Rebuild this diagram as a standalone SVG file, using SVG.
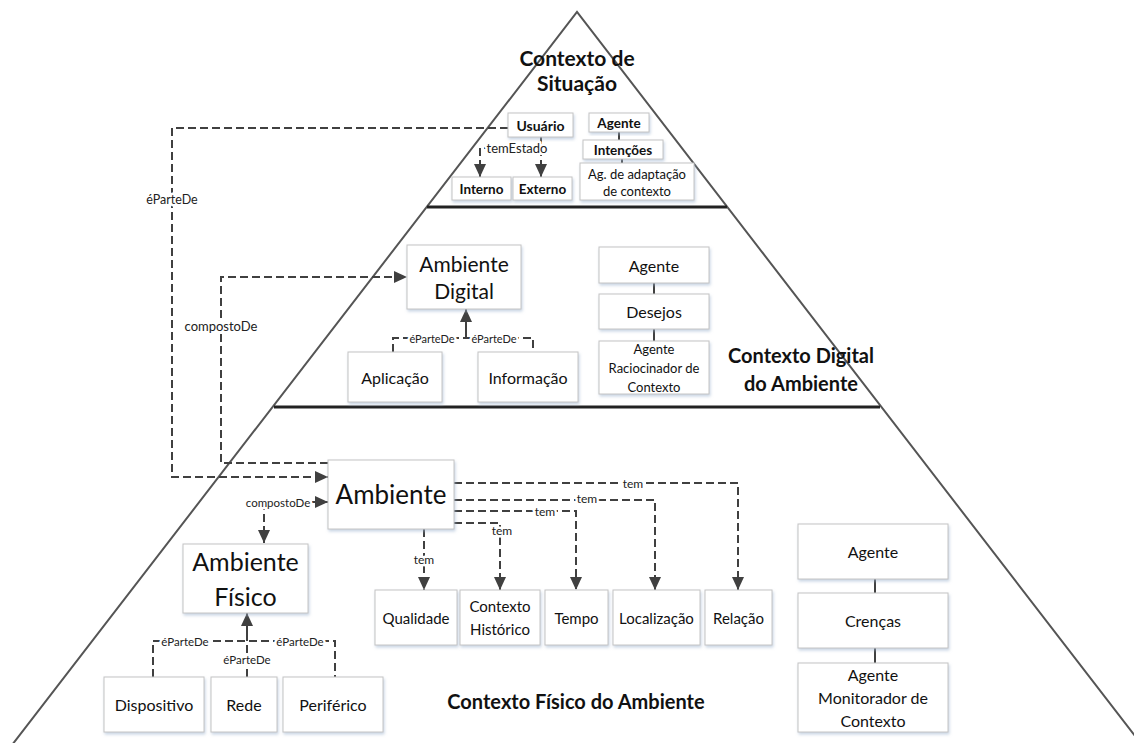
<svg xmlns="http://www.w3.org/2000/svg" width="1134" height="743" viewBox="0 0 1134 743">
  <defs>
    <style>
      text { font-family: "Lato", "Open Sans", sans-serif; fill: #111; text-anchor: middle; dominant-baseline: central; }
      .box { fill: #fff; stroke: #c4c4c4; stroke-width: 1; filter: url(#shadow); }
      .b { font-weight: bold; }
      .title { font-weight: bold; font-size: 20px; }
      .t13 { font-size: 13.5px; }
      .t16 { font-size: 16px; }
      .t15 { font-size: 15px; }
      .dash { fill: none; stroke: #404040; stroke-width: 2; stroke-dasharray: 8 4; }
      .solid { fill: none; stroke: #404040; stroke-width: 2; }
      .lbl { font-size: 12px; fill: #222; stroke: #fff; stroke-width: 5; paint-order: stroke; stroke-linejoin: round; }
      .edge { fill: none; stroke: #555; stroke-width: 2; }
      .divider { stroke: #222; stroke-width: 3; }
    </style>
    <filter id="shadow" x="-10%" y="-10%" width="125%" height="130%">
      <feDropShadow dx="1" dy="2" stdDeviation="1.5" flood-color="#9db2cf" flood-opacity="0.55"/>
    </filter>
    <marker id="arrow" markerUnits="userSpaceOnUse" markerWidth="13" markerHeight="12" refX="13" refY="6" orient="auto">
      <path d="M0,0 L13,6 L0,12 z" fill="#404040"/>
    </marker>
  </defs>

  <!-- pyramid outline and level dividers -->
  <g id="pyramid">
    <path class="edge" d="M12,745 L577,12 L1142,745"/>
    <line class="divider" x1="427" y1="207" x2="727" y2="207"/>
    <line class="divider" x1="274" y1="407" x2="880" y2="407"/>
  </g>

  <!-- level titles -->
  <g id="titles">
    <text class="title" x="577" y="57" style="font-size:21px">Contexto de</text>
    <text class="title" x="577" y="82" style="font-size:21px">Situação</text>
    <text class="title" x="801" y="355">Contexto Digital</text>
    <text class="title" x="801" y="383">do Ambiente</text>
    <text class="title" x="576" y="701">Contexto Físico do Ambiente</text>
  </g>

  <!-- connectors -->
  <g id="connectors">
    <!-- Usuário éParteDe Ambiente -->
    <path class="dash" d="M508,128 H172 V477 H328" marker-end="url(#arrow)"/>
    <!-- Ambiente compostoDe Ambiente Digital -->
    <path class="dash" d="M328,463 H221 V277 H407" marker-end="url(#arrow)"/>
    <!-- Ambiente compostoDe Ambiente Físico -->
    <path class="dash" d="M264,502 H328" marker-end="url(#arrow)"/>
    <path class="dash" d="M264,502 V543" marker-end="url(#arrow)"/>
    <!-- temEstado -->
    <path class="dash" d="M541,137 V148 H480 V177" marker-end="url(#arrow)"/>
    <path class="dash" d="M541,148 V177" marker-end="url(#arrow)"/>
    <!-- agent chains -->
    <line class="solid" x1="619" y1="132" x2="619" y2="140"/>
    <line class="solid" x1="622" y1="159" x2="622" y2="163"/>
    <line class="solid" x1="654" y1="283" x2="654" y2="294"/>
    <line class="solid" x1="654" y1="329" x2="654" y2="341"/>
    <line class="solid" x1="875" y1="579" x2="875" y2="593"/>
    <line class="solid" x1="875" y1="648" x2="875" y2="663"/>
    <!-- Aplicação / Informação éParteDe Ambiente Digital -->
    <path class="dash" d="M393,352 V338 H533 V352"/>
    <path class="solid" d="M466,338 V309" marker-end="url(#arrow)"/>
    <!-- Dispositivo / Rede / Periférico éParteDe Ambiente Físico -->
    <path class="dash" d="M153,677 V641 H335 V677"/>
    <path class="dash" d="M247,677 V641"/>
    <path class="solid" d="M247,641 V613" marker-end="url(#arrow)"/>
    <!-- Ambiente tem ... -->
    <path class="dash" d="M424,529 V590" marker-end="url(#arrow)"/>
    <path class="dash" d="M454,523 H500 V590" marker-end="url(#arrow)"/>
    <path class="dash" d="M454,511 H576 V590" marker-end="url(#arrow)"/>
    <path class="dash" d="M454,500 H655 V590" marker-end="url(#arrow)"/>
    <path class="dash" d="M454,483 H738 V590" marker-end="url(#arrow)"/>

    <!-- connector labels -->
    <text class="lbl" x="172" y="199" style="font-size:12.5px">éParteDe</text>
    <text class="lbl" x="221" y="326" style="font-size:13px">compostoDe</text>
    <text class="lbl" x="278" y="502" style="font-size:11.5px">compostoDe</text>
    <text class="lbl" x="517" y="148" style="font-size:13px">temEstado</text>
    <text class="lbl" x="432" y="338" style="font-size:11px">éParteDe</text>
    <text class="lbl" x="494" y="338" style="font-size:11px">éParteDe</text>
    <text class="lbl" x="185" y="641" style="font-size:11.5px">éParteDe</text>
    <text class="lbl" x="300" y="641" style="font-size:11.5px">éParteDe</text>
    <text class="lbl" x="247" y="659" style="font-size:11.5px">éParteDe</text>
    <text class="lbl" x="424" y="559">tem</text>
    <text class="lbl" x="502" y="530">tem</text>
    <text class="lbl" x="545" y="511">tem</text>
    <text class="lbl" x="587" y="498">tem</text>
    <text class="lbl" x="633" y="483">tem</text>
  </g>

  <!-- situation context -->
  <g id="usuario"><rect class="box" x="508" y="113" width="65" height="24"/><text class="b" x="540.5" y="125" style="font-size:14px">Usuário</text></g>
  <g id="agente-situacao"><rect class="box" x="589" y="113" width="60" height="19"/><text class="b t13" x="619" y="122.5">Agente</text></g>
  <g id="intencoes"><rect class="box" x="583" y="140" width="80" height="19"/><text class="b t13" x="623" y="149.5">Intenções</text></g>
  <g id="ag-adaptacao"><rect class="box" x="580" y="163" width="114" height="37"/><text x="637" y="173.5" style="font-size:13px">Ag. de adaptação</text><text x="637" y="191" style="font-size:13px">de contexto</text></g>
  <g id="interno"><rect class="box" x="452" y="177" width="59" height="23"/><text class="b t13" x="481.5" y="188.5">Interno</text></g>
  <g id="externo"><rect class="box" x="513" y="177" width="59" height="23"/><text class="b t13" x="542.5" y="188.5">Externo</text></g>

  <!-- digital environment context -->
  <g id="ambiente-digital"><rect class="box" x="407" y="245" width="114" height="64"/><text x="464" y="263" style="font-size:21px">Ambiente</text><text x="464" y="290" style="font-size:21px">Digital</text></g>
  <g id="aplicacao"><rect class="box" x="348" y="352" width="94" height="50"/><text class="t16" x="395" y="377">Aplicação</text></g>
  <g id="informacao"><rect class="box" x="478" y="352" width="100" height="50"/><text class="t16" x="528" y="377">Informação</text></g>
  <g id="agente-digital"><rect class="box" x="599" y="247" width="110" height="36"/><text class="t16" x="654" y="265">Agente</text></g>
  <g id="desejos"><rect class="box" x="599" y="294" width="110" height="35"/><text class="t16" x="654" y="311.5">Desejos</text></g>
  <g id="ag-raciocinador"><rect class="box" x="599" y="341" width="110" height="53"/><text x="654" y="348.5" style="font-size:13px">Agente</text><text x="654" y="368" style="font-size:13px">Raciocinador de</text><text x="654" y="387" style="font-size:13px">Contexto</text></g>

  <!-- physical environment context -->
  <g id="ambiente"><rect class="box" x="328" y="460" width="126" height="69"/><text x="391" y="494" style="font-size:26px">Ambiente</text></g>
  <g id="ambiente-fisico"><rect class="box" x="183" y="544" width="125" height="69"/><text x="245.5" y="561" style="font-size:25px">Ambiente</text><text x="245.5" y="596" style="font-size:25px">Físico</text></g>
  <g id="qualidade"><rect class="box" x="375" y="590" width="82" height="55"/><text class="t15" x="416" y="617.5">Qualidade</text></g>
  <g id="contexto-historico"><rect class="box" x="460" y="590" width="80" height="55"/><text class="t15" x="500" y="606">Contexto</text><text class="t15" x="500" y="629">Histórico</text></g>
  <g id="tempo"><rect class="box" x="545" y="590" width="63" height="55"/><text class="t15" x="576.5" y="617.5">Tempo</text></g>
  <g id="localizacao"><rect class="box" x="613" y="590" width="87" height="55"/><text class="t15" x="656.5" y="617.5">Localização</text></g>
  <g id="relacao"><rect class="box" x="705" y="590" width="67" height="55"/><text class="t15" x="738.5" y="617.5">Relação</text></g>
  <g id="dispositivo"><rect class="box" x="104" y="677" width="100" height="55"/><text class="t16" x="154" y="704.5">Dispositivo</text></g>
  <g id="rede"><rect class="box" x="211" y="677" width="66" height="55"/><text class="t16" x="244" y="704.5">Rede</text></g>
  <g id="periferico"><rect class="box" x="283" y="677" width="100" height="55"/><text class="t16" x="333" y="704.5">Periférico</text></g>
  <g id="agente-fisico"><rect class="box" x="798" y="524" width="150" height="55"/><text class="t16" x="873" y="551.5">Agente</text></g>
  <g id="crencas"><rect class="box" x="798" y="593" width="150" height="55"/><text class="t16" x="873" y="620.5">Crenças</text></g>
  <g id="ag-monitorador"><rect class="box" x="798" y="663" width="150" height="69"/><text class="t16" x="873" y="674">Agente</text><text class="t16" x="873" y="697">Monitorador de</text><text class="t16" x="873" y="720">Contexto</text></g>
</svg>
